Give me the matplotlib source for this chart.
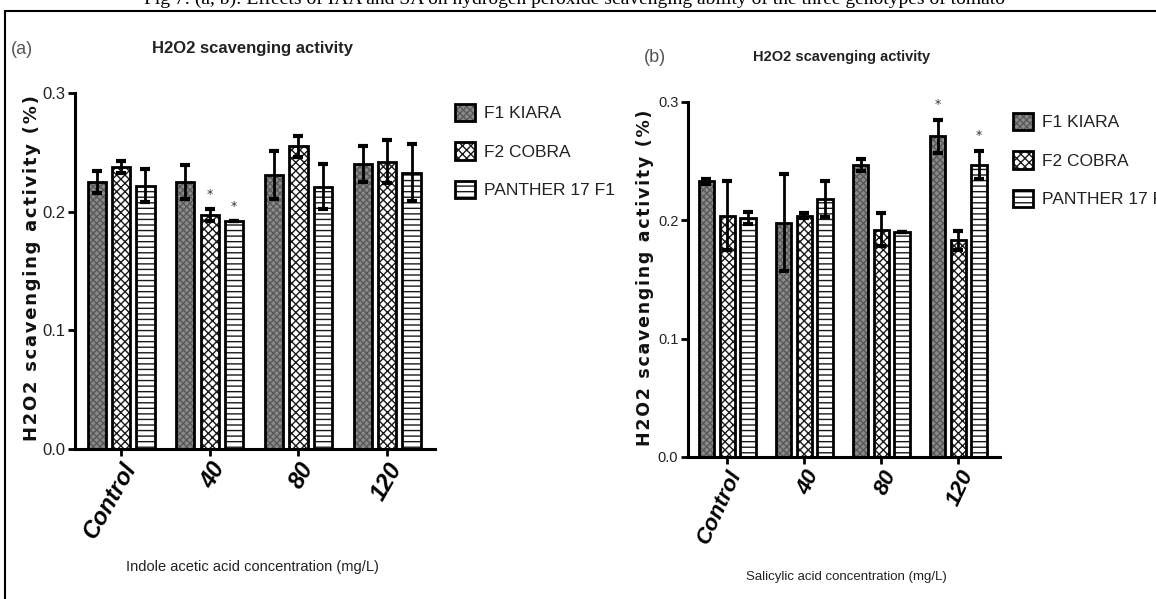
import matplotlib
matplotlib.use("Agg")
import matplotlib.pyplot as plt
import numpy as np
from matplotlib.patches import Rectangle

W, H = 1156, 599

categories = ["Control", "40", "80", "120"]
genotypes = ["F1 KIARA", "F2 COBRA", "PANTHER 17 F1"]

# Panel (a): Indole acetic acid
iaa_f1 = [0.225, 0.225, 0.231, 0.240]
iaa_f2 = [0.238, 0.197, 0.255, 0.242]
iaa_p17 = [0.222, 0.192, 0.221, 0.233]
iaa_f1_err = [0.009, 0.014, 0.020, 0.015]
iaa_f2_err = [0.005, 0.005, 0.009, 0.018]
iaa_p17_err = [0.014, 0.0, 0.019, 0.024]
iaa_stars = [(1, 1), (1, 2)]  # (category index, genotype index)

# Panel (b): Salicylic acid
sa_f1 = [0.233, 0.198, 0.247, 0.271]
sa_f2 = [0.204, 0.204, 0.192, 0.183]
sa_p17 = [0.202, 0.218, 0.190, 0.247]
sa_f1_err = [0.002, 0.041, 0.005, 0.014]
sa_f2_err = [0.029, 0.002, 0.014, 0.008]
sa_p17_err = [0.005, 0.015, 0.0, 0.012]
sa_stars = [(3, 0), (3, 2)]

yticks = [0.0, 0.1, 0.2, 0.3]
ytick_labels = ["0.0", "0.1", "0.2", "0.3"]

NARROW = ["DejaVu Sans Condensed", "Liberation Sans Narrow", "Liberation Sans"]

plt.rcParams["hatch.linewidth"] = 1.0

fig = plt.figure(figsize=(W / 100, H / 100), dpi=100)


def px(x, y):
    return x / W, 1 - y / H


# frame border
fig.add_artist(Rectangle(px(5, 700), 1.2, (700 - 11) / H, transform=fig.transFigure,
                         fill=False, edgecolor="black", linewidth=1.5))
# clipped caption at top
fig.text(575 / W, 1 + 1 / H,
         "Fig 7: (a, b): Effects of IAA and SA on hydrogen peroxide scavenging ability of the three genotypes of tomato",
         ha="center", va="center", fontsize=14, family="Liberation Serif")

styles = [
    dict(facecolor="#8a8a8a", hatch="xxxxx"),
    dict(facecolor="white", hatch="xxxx"),
    dict(facecolor="white", hatch="---"),
]


def panel(rect, f1, f2, p17, e1, e2, e3, stars, offset, bw, xlim, rot, tfs, yfs):
    ax = fig.add_axes(rect)
    x = np.arange(len(categories))
    series = [f1, f2, p17]
    errs = [e1, e2, e3]
    for i, (vals, err, st) in enumerate(zip(series, errs, styles)):
        pos = x + (i - 1) * offset
        bars = ax.bar(pos, vals, width=bw, facecolor=st["facecolor"], hatch=st["hatch"],
                      edgecolor="black", linewidth=2.0, label=genotypes[i], zorder=2)
        for b in bars:
            b._hatch_color = (0.1, 0.1, 0.1, 1.0) if i != 0 else (0.35, 0.35, 0.35, 1.0)
        ax.errorbar(pos, vals, yerr=err, fmt="none", ecolor="black", elinewidth=2,
                    capsize=3.5, capthick=3, zorder=3)
    for ci, gi in stars:
        vals = series[gi]
        ax.text(x[ci] + (gi - 1) * offset, vals[ci] + errs[gi][ci] + 0.007, "*",
                ha="center", va="bottom", fontsize=9, color="#333333")
    ax.set_xlim(*xlim)
    ax.set_ylim(0, 0.3)
    ax.set_yticks(yticks)
    ax.set_yticklabels(ytick_labels, family=NARROW, fontsize=yfs, color="#222222")
    ax.set_xticks(x)
    ax.set_xticklabels(categories, rotation=rot, ha="right", rotation_mode="anchor",
                       fontsize=tfs, fontweight="bold", fontstyle="italic", family=NARROW)
    for s in ["top", "right"]:
        ax.spines[s].set_visible(False)
    ax.spines["left"].set_linewidth(2.2)
    ax.spines["bottom"].set_linewidth(2.2)
    ax.tick_params(axis="both", width=2, length=5, pad=2)
    ax.set_facecolor("none")
    return ax


ax_a = panel([75 / W, 1 - 449 / H, 360 / W, 356 / H],
             iaa_f1, iaa_f2, iaa_p17, iaa_f1_err, iaa_f2_err, iaa_p17_err, iaa_stars,
             0.275, 0.205, (-0.52, 3.54), 60, 17, 12)
ax_b = panel([688 / W, 1 - 457 / H, 312 / W, 355 / H],
             sa_f1, sa_f2, sa_p17, sa_f1_err, sa_f2_err, sa_p17_err, sa_stars,
             0.27, 0.2, (-0.51, 3.54), 65, 16, 10.5)

# y labels (letter-spaced bold)
ylab = "\u200a".join("H2O2 scavenging activity (%)")
fig.text(*px(32, 268), ylab, rotation=90, ha="center", va="center",
         fontsize=13, fontweight="bold", family="DejaVu Sans", color="#111111")
fig.text(*px(645, 278), ylab, rotation=90, ha="center", va="center",
         fontsize=12.5, fontweight="bold", family="DejaVu Sans", color="#111111")

# panel letters and titles
fig.text(*px(22, 50), "(a)", ha="center", va="center", fontsize=13, family=NARROW, color="#555555")
fig.text(*px(655, 57), "(b)", ha="center", va="center", fontsize=13, family=NARROW, color="#555555")
fig.text(*px(253, 48), "H2O2 scavenging activity", ha="center", va="center", fontsize=12,
         fontweight="bold", family=NARROW, color="#222222")
fig.text(*px(842, 57), "H2O2 scavenging activity", ha="center", va="center", fontsize=10.5,
         fontweight="bold", family=NARROW, color="#222222")

# x labels
fig.text(*px(252, 567), "Indole acetic acid concentration (mg/L)", ha="center", va="center",
         fontsize=10.5, family=NARROW, color="#222222")
fig.text(*px(846, 577), "Salicylic acid concentration (mg/L)", ha="center", va="center",
         fontsize=9.5, family=NARROW, color="#222222")

# legends
leg_kw = dict(frameon=False, handlelength=1.15, handleheight=1.15, handletextpad=0.5,
              labelspacing=1.2, borderpad=0, borderaxespad=0,
              prop={"family": NARROW, "size": 12.5}, labelcolor="#222222")
handles, labels = ax_a.get_legend_handles_labels()
fig.legend(handles, labels, loc="upper left", bbox_to_anchor=px(455, 104), **leg_kw)
handles, labels = ax_b.get_legend_handles_labels()
fig.legend(handles, labels, loc="upper left", bbox_to_anchor=px(1013, 113), **leg_kw)

fig.savefig("out.png", dpi=100)
